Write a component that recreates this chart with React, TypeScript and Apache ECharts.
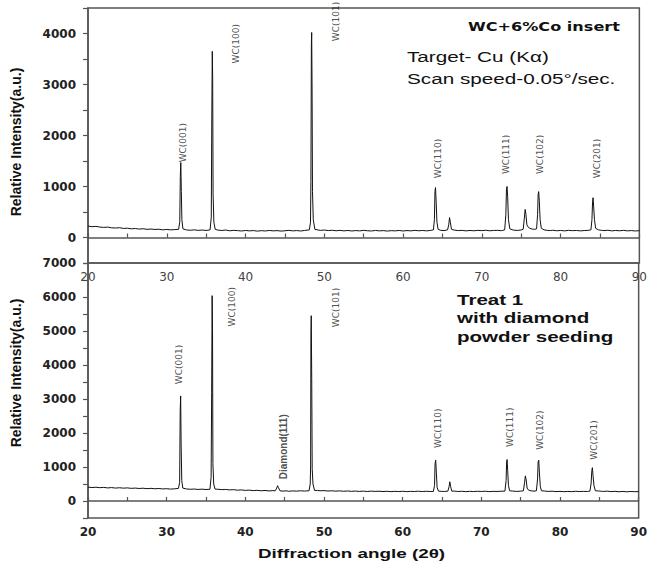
import React, { useEffect, useRef } from "react";
import * as echarts from "echarts";

// 2θ (deg), intensity (a.u.) — WC+6%Co insert
const topPattern: [number, number][] = [
  [20, 225], [20.5, 212], [21, 218], [21.5, 205], [22, 198], [22.5, 204], [23, 190], [23.5, 186], [24, 192], [24.5, 178],
  [25, 182], [25.5, 170], [26, 176], [26.5, 165], [27, 172], [27.5, 160], [28, 166], [28.5, 158], [29, 162], [29.5, 150],
  [30, 158], [30.5, 150], [31, 155],
  [31.5, 160], [31.65, 300], [31.72, 1200], [31.78, 1470], [31.85, 900], [31.92, 350], [32.05, 170],
  [32.5, 148], [33, 142], [33.5, 150], [34, 140], [34.5, 146], [35, 138],
  [35.5, 150], [35.65, 400], [35.72, 2400], [35.78, 3650], [35.83, 3100], [35.88, 850], [35.98, 300], [36.15, 160],
  [36.5, 145], [37, 138], [37.5, 146], [38, 132], [38.5, 140], [39, 135], [39.5, 128], [40, 138], [40.5, 130], [41, 136],
  [41.5, 125], [42, 134], [42.5, 128], [43, 138], [43.5, 130], [44, 135], [44.5, 126], [45, 132], [45.5, 140], [46, 130],
  [46.5, 136], [47, 128], [47.5, 138],
  [48.1, 150], [48.25, 300], [48.3, 1100], [48.36, 3800], [48.4, 4020], [48.45, 2850], [48.5, 900], [48.6, 350], [48.8, 160],
  [49.2, 148], [49.5, 140], [50, 146], [50.5, 136], [51, 142], [51.5, 132], [52, 140], [52.5, 130], [53, 138], [53.5, 128],
  [54, 136], [54.5, 130], [55, 140], [55.5, 132], [56, 128], [56.5, 138], [57, 130], [57.5, 135], [58, 126], [58.5, 134],
  [59, 130], [59.5, 138], [60, 128], [60.5, 136], [61, 130], [61.5, 140], [62, 132], [62.5, 138], [63, 130], [63.5, 140],
  [63.85, 150], [63.98, 350], [64.05, 900], [64.12, 980], [64.2, 700], [64.3, 300], [64.45, 160],
  [64.8, 140], [65.2, 135],
  [65.65, 150], [65.8, 250], [65.9, 390], [66.0, 300], [66.15, 160],
  [66.5, 145], [67, 135], [67.5, 140], [68, 130], [68.5, 138], [69, 132], [69.5, 140], [70, 135], [70.5, 142], [71, 132],
  [71.5, 138], [72, 140], [72.5, 134],
  [72.9, 150], [73.05, 450], [73.13, 950], [73.2, 1000], [73.28, 800], [73.38, 350], [73.55, 170],
  [74, 145], [74.5, 138], [75, 148],
  [75.25, 160], [75.4, 380], [75.5, 550], [75.6, 450], [75.72, 250], [75.9, 200],
  [76.1, 180], [76.4, 165], [76.7, 160],
  [76.95, 170], [77.08, 450], [77.15, 850], [77.22, 900], [77.3, 700], [77.4, 350], [77.55, 180],
  [77.9, 150], [78.3, 140], [78.7, 136], [79, 142], [79.5, 132], [80, 138], [80.5, 130], [81, 140], [81.5, 134], [82, 138],
  [82.5, 130], [83, 136], [83.5, 140],
  [83.85, 150], [83.98, 350], [84.06, 700], [84.12, 780], [84.2, 600], [84.3, 350], [84.45, 180],
  [84.8, 150], [85.2, 140], [85.5, 135], [86, 142], [86.5, 130], [87, 138], [87.5, 132], [88, 140], [88.5, 130], [89, 136],
  [89.5, 128], [90, 134],
];

// Treat 1 with diamond powder seeding
const bottomPattern: [number, number][] = [
  [20, 410], [20.5, 395], [21, 405], [21.5, 392], [22, 400], [22.5, 385], [23, 395], [23.5, 380], [24, 390], [24.5, 378],
  [25, 386], [25.5, 372], [26, 380], [26.5, 368], [27, 376], [27.5, 362], [28, 372], [28.5, 360], [29, 368], [29.5, 355],
  [30, 362], [30.5, 350], [31, 358],
  [31.5, 370], [31.65, 550], [31.72, 2650], [31.78, 3090], [31.84, 1650], [31.92, 600], [32.05, 380],
  [32.5, 355], [33, 345], [33.5, 352], [34, 340], [34.5, 348], [35, 338],
  [35.5, 345], [35.65, 700], [35.72, 3200], [35.78, 6040], [35.83, 5050], [35.88, 1100], [35.98, 500], [36.15, 350],
  [36.5, 345], [37, 335], [37.5, 340], [38, 326], [38.5, 334], [39, 318], [39.5, 326], [40, 312], [40.5, 320], [41, 305],
  [41.5, 314], [42, 300], [42.5, 310], [43, 296], [43.5, 305],
  [43.8, 300], [44.0, 380], [44.1, 450], [44.2, 400], [44.4, 300],
  [44.8, 290], [45.2, 300], [45.5, 286], [46, 296], [46.5, 290], [47, 300], [47.5, 292], [47.8, 298],
  [48.1, 300], [48.25, 500], [48.3, 1000], [48.34, 4850], [48.38, 5450], [48.44, 3600], [48.5, 950], [48.6, 500], [48.8, 310],
  [49.2, 310], [49.5, 300], [50, 306], [50.5, 294], [51, 300], [51.5, 290], [52, 298], [52.5, 286], [53, 295], [53.5, 284],
  [54, 292], [54.5, 282], [55, 290], [55.5, 280], [56, 290], [56.5, 282], [57, 288], [57.5, 278], [58, 286], [58.5, 276],
  [59, 284], [59.5, 278], [60, 286], [60.5, 276], [61, 284], [61.5, 280], [62, 288], [62.5, 278], [63, 286], [63.5, 280],
  [63.9, 280], [64.05, 450], [64.12, 1100], [64.2, 1200], [64.28, 850], [64.38, 400], [64.55, 290],
  [64.9, 285], [65.3, 280],
  [65.75, 290], [65.9, 420], [66.0, 565], [66.1, 420], [66.25, 290],
  [66.6, 290], [67, 280], [67.5, 286], [68, 276], [68.5, 284], [69, 278], [69.5, 286], [70, 280], [70.5, 288], [71, 276],
  [71.5, 284], [72, 280], [72.5, 288],
  [73.0, 290], [73.15, 600], [73.22, 1150], [73.28, 1220], [73.35, 900], [73.45, 450], [73.6, 300],
  [74, 292], [74.5, 282], [75, 290],
  [75.35, 300], [75.5, 550], [75.6, 740], [75.7, 620], [75.82, 380], [76.0, 320],
  [76.3, 300], [76.7, 290],
  [77.0, 300], [77.15, 650], [77.22, 1150], [77.3, 1200], [77.38, 850], [77.5, 420], [77.65, 300],
  [78, 295], [78.5, 282], [79, 288], [79.5, 276], [80, 284], [80.5, 274], [81, 282], [81.5, 276], [82, 286], [82.5, 278],
  [83, 284], [83.5, 280],
  [83.8, 290], [83.95, 500], [84.05, 900], [84.12, 980], [84.2, 750], [84.32, 450], [84.5, 300],
  [84.9, 295], [85.3, 285], [85.5, 280], [86, 290], [86.5, 276], [87, 284], [87.5, 272], [88, 282], [88.5, 270], [89, 280],
  [89.5, 274], [90, 278],
];

// peak labels: [2θ, label centre intensity, text]
const topPeakLabels: [number, number, string][] = [
  [32.0, 1860, "WC(001)"], [38.8, 3800, "WC(100)"], [51.5, 4235, "WC(101)"], [64.4, 1550, "WC(110)"],
  [73.1, 1630, "WC(111)"], [77.4, 1630, "WC(102)"], [84.6, 1550, "WC(201)"],
];
const bottomPeakLabels: [number, number, string][] = [
  [31.6, 4015, "WC(001)"], [38.3, 5715, "WC(100)"], [51.5, 5690, "WC(101)"], [64.5, 2140, "WC(110)"],
  [73.6, 2170, "WC(111)"], [77.4, 2085, "WC(102)"], [84.3, 1795, "WC(201)"],
];
const diamondLabels: [number, number, string][] = [[44.8, 1595, "Diamond(111)"]];

const xTicks = { min: 20, max: 90, step: 5 };
const topY = { min: -500, max: 4500, step: 500 };
const bottomY = { min: -500, max: 7000, step: 500 };

const AXIS = "#555";

export default function App() {
  const ref = useRef<HTMLDivElement>(null);
  useEffect(() => {
    if (!ref.current) return;
    const chart = echarts.init(ref.current, undefined, { renderer: "svg" });
    const yFmt = (v: number) => (v >= 0 && v % 1000 === 0 ? String(v) : "");
    const xFmt = (v: number) => (v % 10 === 0 ? String(v) : "");
    const yAxisBase = (r: typeof topY) => ({
      type: "value",
      min: r.min,
      max: r.max,
      interval: r.step,
      axisLine: { show: true, lineStyle: { color: AXIS, width: 1.5 } },
      axisTick: { show: true, inside: false, length: 5, lineStyle: { color: AXIS, width: 1.2 } },
      axisLabel: {
        formatter: yFmt,
        margin: 12,
        fontFamily: "DejaVu Sans",
        fontWeight: "bold",
        fontSize: 12,
        color: "#222",
        showMinLabel: true,
        showMaxLabel: true,
      },
      splitLine: { show: false },
    });
    const xAxisBase = (gi: number, bold: boolean) => ({
      type: "value",
      gridIndex: gi,
      min: xTicks.min,
      max: xTicks.max,
      interval: xTicks.step,
      axisLine: { show: true, lineStyle: { color: AXIS, width: 1.5 } },
      axisTick: { show: true, inside: true, length: 4, lineStyle: { color: AXIS, width: 1.2 } },
      axisLabel: {
        formatter: xFmt,
        margin: 8,
        fontFamily: "DejaVu Sans",
        fontWeight: bold ? "bold" : "normal",
        fontSize: 12,
        color: bold ? "#222" : "#444",
        showMinLabel: true,
        showMaxLabel: true,
      },
      splitLine: { show: false },
    });
    const labelSeries = (gi: number, data: [number, number, string][], bold: boolean) => ({
      type: "scatter",
      xAxisIndex: gi,
      yAxisIndex: gi,
      symbolSize: 0,
      silent: true,
      data: data.map((d) => ({ value: [d[0], d[1]], name: d[2] })),
      label: {
        show: true,
        formatter: (p: any) => p.name,
        position: "inside",
        rotate: 90,
        fontFamily: bold ? "Liberation Sans" : "DejaVu Sans",
        fontWeight: bold ? "bold" : "normal",
        fontSize: bold ? 10 : 9,
        color: "#222",
      },
    });
    const txt = (text: string, x: number, y: number, font: string, sx: number, align = "left") => ({
      type: "text",
      x,
      y,
      scaleX: sx,
      silent: true,
      style: {
        text,
        font,
        fill: "#111",
        textAlign: align,
        textVerticalAlign: "middle",
        align,
        verticalAlign: "middle",
      },
    });
    const yTitle = (y: number) => ({
      type: "text",
      x: 16,
      y,
      rotation: Math.PI / 2,
      silent: true,
      style: {
        text: "Relative Intensity(a.u.)",
        font: 'bold 14px "Liberation Sans"',
        fill: "#111",
        textAlign: "center",
        textVerticalAlign: "middle",
        align: "center",
        verticalAlign: "middle",
      },
    });
    chart.setOption({
      animation: false,
      backgroundColor: "#fff",
      grid: [
        { left: 88, top: 8, width: 555, height: 255, show: true, borderColor: AXIS, borderWidth: 1.5, backgroundColor: "transparent" },
        { left: 88, top: 263, width: 555, height: 255, show: true, borderColor: AXIS, borderWidth: 1.5, backgroundColor: "transparent" },
      ],
      xAxis: [xAxisBase(0, false), xAxisBase(1, true)],
      yAxis: [
        { ...yAxisBase(topY), gridIndex: 0 },
        { ...yAxisBase(bottomY), gridIndex: 1 },
      ],
      series: [
        {
          type: "line",
          xAxisIndex: 0,
          yAxisIndex: 0,
          data: topPattern,
          showSymbol: false,
          symbol: "none",
          lineStyle: { color: "#111", width: 1 },
          silent: true,
        },
        {
          type: "line",
          xAxisIndex: 1,
          yAxisIndex: 1,
          data: bottomPattern,
          showSymbol: false,
          symbol: "none",
          lineStyle: { color: "#111", width: 1 },
          silent: true,
        },
        labelSeries(0, topPeakLabels, false),
        labelSeries(1, bottomPeakLabels, false),
        labelSeries(1, diamondLabels, true),
      ],
      graphic: [
        txt("WC+6%Co insert", 468, 27, 'bold 11.5px "DejaVu Sans"', 1.4),
        txt("Target- Cu (K\u03b1)", 407, 57, '15px "Liberation Sans"', 1.38),
        txt("Scan speed-0.05\u00b0/sec.", 407, 79, '15px "Liberation Sans"', 1.38),
        txt("Treat 1", 457, 300, 'bold 15px "Liberation Sans"', 1.37),
        txt("with diamond", 457, 318, 'bold 15px "Liberation Sans"', 1.37),
        txt("powder seeding", 457, 337, 'bold 15px "Liberation Sans"', 1.37),
        txt("Diffraction angle (2\u03b8)", 258, 553, 'bold 13px "Liberation Sans"', 1.45),
        yTitle(142),
        yTitle(373),
      ],
    });
    return () => chart.dispose();
  }, []);
  return (
    <div
      ref={ref}
      style={{ position: "fixed", left: 0, top: 0, width: 650, height: 566, background: "#fff" }}
    />
  );
}
